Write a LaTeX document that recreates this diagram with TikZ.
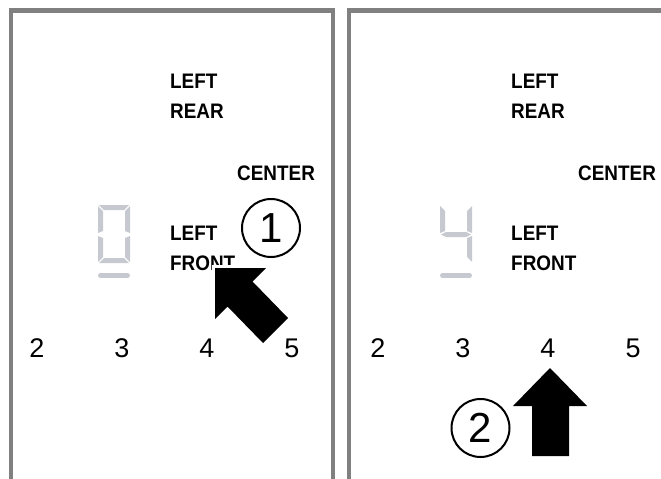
\documentclass[tikz,border=0pt]{standalone}
\usepackage{fontspec}
\setmainfont{Liberation Sans}
\newfontfamily\lblfont[FakeStretch=0.9]{Liberation Sans Bold}
\usepackage{xcolor}

\definecolor{framegray}{HTML}{808080}
\definecolor{seggray}{HTML}{C6CAD0}

\tikzset{
    panel/.style={draw=framegray, line width=4.5, line join=miter},
    lbl/.style={anchor=base west, inner sep=0, font=\fontsize{21}{21}\lblfont},
    scalenum/.style={anchor=base, inner sep=0, font=\fontsize{27}{27}\selectfont},
    stepnum/.style={circle, draw, line width=2, minimum size=58, inner sep=0, font=\fontsize{42}{42}\selectfont},
    segment/.style={fill=seggray},
    underbar/.style={draw=seggray, line width=5, line cap=round},
    blockarrow/.style={fill=black, preaction={draw=white, line width=6, line join=miter}}
}

\begin{document}
\begin{tikzpicture}[x=1pt, y=-1pt]
    \useasboundingbox (0,0) rectangle (661,479);

    % Frames of the two displays
    \draw[panel] (11,479) -- (11,10.5) -- (333,10.5) -- (333,479);
    \draw[panel] (349,479) -- (349,10.5) -- (661,10.5);

    % Left display: zone labels
    \node[lbl] (lrear1) at (170,88) {LEFT};
    \node[lbl] (lrear2) at (170,118) {REAR};
    \node[lbl] (center) at (237,180) {CENTER};
    \node[lbl] (lfront1) at (170,240) {LEFT};
    \node[lbl] (lfront2) at (170,270) {FRONT};

    % Left display: segment digit 0
    \fill[segment] (99,205) -- (129,205) -- (124,210) -- (104,210) -- cycle;
    \fill[segment] (98,206) -- (103,211) -- (103,231) -- (98,233) -- cycle;
    \fill[segment] (130,206) -- (130,233) -- (125,231) -- (125,211) -- cycle;
    \fill[segment] (98,236) -- (103,238) -- (103,257) -- (98,262) -- cycle;
    \fill[segment] (130,236) -- (130,262) -- (125,257) -- (125,238) -- cycle;
    \fill[segment] (104,258) -- (124,258) -- (129,263) -- (99,263) -- cycle;
    \draw[underbar] (100.5,275.5) -- (127.5,275.5);

    % Left display: scale
    \node[scalenum] (l2) at (37,357) {2};
    \node[scalenum] (l3) at (122,357) {3};
    \node[scalenum] (l4) at (207,357) {4};
    \node[scalenum] (l5) at (292,357) {5};

    % Step 1: press towards LEFT FRONT
    \node[stepnum] (step1) at (271,228) {1};
    \fill[blockarrow] (215,268) -- (266,268) -- (252.5,281.5) -- (288,318)
        -- (263,343) -- (227.5,306.5) -- (215,319) -- cycle;

    % Right display: zone labels
    \node[lbl] (rrear1) at (511,88) {LEFT};
    \node[lbl] (rrear2) at (511,118) {REAR};
    \node[lbl] (rcenter) at (578,180) {CENTER};
    \node[lbl] (rfront1) at (511,240) {LEFT};
    \node[lbl] (rfront2) at (511,270) {FRONT};

    % Right display: segment digit 4
    \fill[segment] (440,206) -- (445,211) -- (445,231) -- (440,233) -- cycle;
    \fill[segment] (472,206) -- (472,233) -- (467,231) -- (467,211) -- cycle;
    \fill[segment] (441,234.5) -- (446,232) -- (466,232) -- (471,234.5) -- (466,237) -- (446,237) -- cycle;
    \fill[segment] (472,236) -- (472,262) -- (467,257) -- (467,238) -- cycle;
    \draw[underbar] (442.5,275.5) -- (469.5,275.5);

    % Right display: scale
    \node[scalenum] (r2) at (378,357) {2};
    \node[scalenum] (r3) at (463,357) {3};
    \node[scalenum] (r4) at (548,357) {4};
    \node[scalenum] (r5) at (633,357) {5};

    % Step 2: press level 4
    \node[stepnum] (step2) at (480.5,428) {2};
    \fill[blockarrow] (550,368) -- (587,406) -- (569,406) -- (569,456)
        -- (532,456) -- (532,406) -- (513,406) -- cycle;
\end{tikzpicture}
\end{document}
